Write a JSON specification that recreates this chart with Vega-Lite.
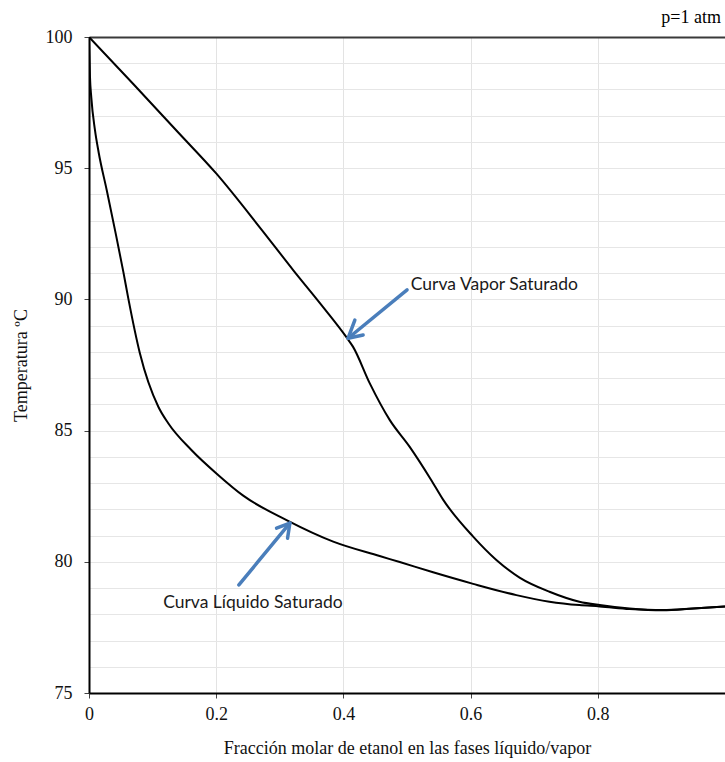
{
  "$schema": "https://vega.github.io/schema/vega-lite/v6.json",
  "width": 636,
  "height": 656,
  "autosize": {"type": "none"},
  "padding": {"left": 89, "top": 37, "right": 0, "bottom": 69},
  "background": "white",
  "title": {
    "text": "p=1 atm",
    "anchor": "end",
    "font": "Liberation Serif",
    "fontSize": 18,
    "fontWeight": "normal",
    "color": "#000000",
    "dx": -4,
    "offset": 1
  },
  "config": {
    "view": {"stroke": null},
    "axis": {
      "labelFont": "Liberation Serif",
      "labelFontSize": 18,
      "labelColor": "#111111",
      "labelOverlap": false,
      "labelFlush": false,
      "titleFont": "Liberation Serif",
      "titleFontSize": 18,
      "titleFontWeight": "normal",
      "titleColor": "#111111",
      "domainColor": "#000000",
      "domainWidth": 2,
      "tickColor": "#444444",
      "tickSize": 5,
      "tickWidth": 1
    }
  },
  "datasets": {
    "curves": [
      {"curve": "vapor", "x": 0, "t": 100},
      {"curve": "vapor", "x": 0.07, "t": 98.2},
      {"curve": "vapor", "x": 0.14, "t": 96.37},
      {"curve": "vapor", "x": 0.2, "t": 94.8},
      {"curve": "vapor", "x": 0.27, "t": 92.7},
      {"curve": "vapor", "x": 0.321, "t": 91.12},
      {"curve": "vapor", "x": 0.37, "t": 89.65},
      {"curve": "vapor", "x": 0.405, "t": 88.55},
      {"curve": "vapor", "x": 0.415, "t": 88.2},
      {"curve": "vapor", "x": 0.4415, "t": 86.8},
      {"curve": "vapor", "x": 0.473, "t": 85.4},
      {"curve": "vapor", "x": 0.504, "t": 84.39},
      {"curve": "vapor", "x": 0.538, "t": 83.12},
      {"curve": "vapor", "x": 0.557, "t": 82.36},
      {"curve": "vapor", "x": 0.604, "t": 80.96},
      {"curve": "vapor", "x": 0.6405, "t": 80.07},
      {"curve": "vapor", "x": 0.677, "t": 79.4},
      {"curve": "vapor", "x": 0.724, "t": 78.86},
      {"curve": "vapor", "x": 0.771, "t": 78.48},
      {"curve": "vapor", "x": 0.803, "t": 78.35},
      {"curve": "vapor", "x": 0.85, "t": 78.22},
      {"curve": "vapor", "x": 0.902, "t": 78.16},
      {"curve": "vapor", "x": 0.95, "t": 78.22},
      {"curve": "vapor", "x": 1.0, "t": 78.3},
      {"curve": "liquido", "x": 0, "t": 100},
      {"curve": "liquido", "x": 0.0015, "t": 98.5},
      {"curve": "liquido", "x": 0.0036, "t": 97.7},
      {"curve": "liquido", "x": 0.0094, "t": 96.45},
      {"curve": "liquido", "x": 0.0152, "t": 95.6},
      {"curve": "liquido", "x": 0.028, "t": 94.15},
      {"curve": "liquido", "x": 0.0408, "t": 92.65},
      {"curve": "liquido", "x": 0.054, "t": 91.05},
      {"curve": "liquido", "x": 0.0617, "t": 90.05},
      {"curve": "liquido", "x": 0.08, "t": 87.95},
      {"curve": "liquido", "x": 0.109, "t": 85.91},
      {"curve": "liquido", "x": 0.1246, "t": 85.28},
      {"curve": "liquido", "x": 0.161, "t": 84.26},
      {"curve": "liquido", "x": 0.203, "t": 83.31},
      {"curve": "liquido", "x": 0.2425, "t": 82.52},
      {"curve": "liquido", "x": 0.3106, "t": 81.59},
      {"curve": "liquido", "x": 0.384, "t": 80.77},
      {"curve": "liquido", "x": 0.457, "t": 80.22},
      {"curve": "liquido", "x": 0.4886, "t": 79.99},
      {"curve": "liquido", "x": 0.541, "t": 79.6},
      {"curve": "liquido", "x": 0.604, "t": 79.16},
      {"curve": "liquido", "x": 0.672, "t": 78.73},
      {"curve": "liquido", "x": 0.724, "t": 78.48},
      {"curve": "liquido", "x": 0.771, "t": 78.35},
      {"curve": "liquido", "x": 0.803, "t": 78.3},
      {"curve": "liquido", "x": 0.85, "t": 78.2},
      {"curve": "liquido", "x": 0.902, "t": 78.15},
      {"curve": "liquido", "x": 0.95, "t": 78.22},
      {"curve": "liquido", "x": 1.0, "t": 78.3}
    ],
    "arrows": [
      {"part": "vapor-shaft", "x": 0.5001, "t": 90.36, "x2": 0.4074, "t2": 88.52},
      {"part": "vapor-barb1", "x": 0.431, "t": 88.64, "x2": 0.4074, "t2": 88.52},
      {"part": "vapor-barb2", "x": 0.418, "t": 89.21, "x2": 0.4074, "t2": 88.52},
      {"part": "liquido-shaft", "x": 0.2357, "t": 79.12, "x2": 0.3158, "t2": 81.47},
      {"part": "liquido-barb1", "x": 0.2949, "t": 81.28, "x2": 0.3158, "t2": 81.47},
      {"part": "liquido-barb2", "x": 0.3122, "t": 80.9, "x2": 0.3158, "t2": 81.47}
    ],
    "labels": [
      {"text": "Curva Vapor Saturado", "x": 0.506, "t": 90.55, "align": "left"},
      {"text": "Curva Líquido Saturado", "x": 0.2577, "t": 78.43, "align": "center"}
    ]
  },
  "layer": [
    {
      "data": {"name": "curves"},
      "mark": {"type": "line", "color": "#000000", "strokeWidth": 2, "interpolate": "monotone", "clip": true},
      "encoding": {
        "x": {
          "field": "x",
          "type": "quantitative",
          "scale": {"domain": [0, 1], "nice": false, "zero": false},
          "axis": {
            "title": "Fracción molar de etanol en las fases líquido/vapor",
            "values": [0, 0.2, 0.4, 0.6, 0.8],
            "format": "~g",
            "labelPadding": 7,
            "titlePadding": 16,
            "grid": true,
            "gridColor": "#e3e3e3",
            "gridWidth": 1
          }
        },
        "y": {
          "field": "t",
          "type": "quantitative",
          "scale": {"domain": [75, 100], "nice": false, "zero": false},
          "axis": {
            "title": "Temperatura ºC",
            "values": [75, 76, 77, 78, 79, 80, 81, 82, 83, 84, 85, 86, 87, 88, 89, 90, 91, 92, 93, 94, 95, 96, 97, 98, 99, 100],
            "tickCount": 30,
            "labelExpr": "datum.value % 5 === 0 ? datum.label : ''",
            "format": "d",
            "labelPadding": 12,
            "titlePadding": 15,
            "tickOpacity": {"condition": {"test": "datum.value % 5 !== 0", "value": 0}, "value": 1},
            "grid": true,
            "gridColor": {"condition": {"test": "datum.value === 100", "value": "#3a3a3a"}, "value": "#e6e6e6"},
            "gridWidth": {"condition": {"test": "datum.value === 100", "value": 2}, "value": 1}
          }
        },
        "detail": {"field": "curve"}
      }
    },
    {
      "data": {"name": "arrows"},
      "mark": {"type": "rule", "color": "#4a7ebb", "strokeWidth": 3.5, "strokeCap": "round"},
      "encoding": {
        "x": {"field": "x", "type": "quantitative"},
        "y": {"field": "t", "type": "quantitative"},
        "x2": {"field": "x2"},
        "y2": {"field": "t2"}
      }
    },
    {
      "data": {"name": "labels"},
      "transform": [{"filter": "datum.align === 'left'"}],
      "mark": {"type": "text", "font": "Lato", "fontSize": 17.5, "color": "#1a1a1a", "baseline": "middle", "align": "left"},
      "encoding": {
        "x": {"field": "x", "type": "quantitative"},
        "y": {"field": "t", "type": "quantitative"},
        "text": {"field": "text"}
      }
    },
    {
      "data": {"name": "labels"},
      "transform": [{"filter": "datum.align === 'center'"}],
      "mark": {"type": "text", "font": "Lato", "fontSize": 17.5, "color": "#1a1a1a", "baseline": "middle", "align": "center"},
      "encoding": {
        "x": {"field": "x", "type": "quantitative"},
        "y": {"field": "t", "type": "quantitative"},
        "text": {"field": "text"}
      }
    }
  ]
}
